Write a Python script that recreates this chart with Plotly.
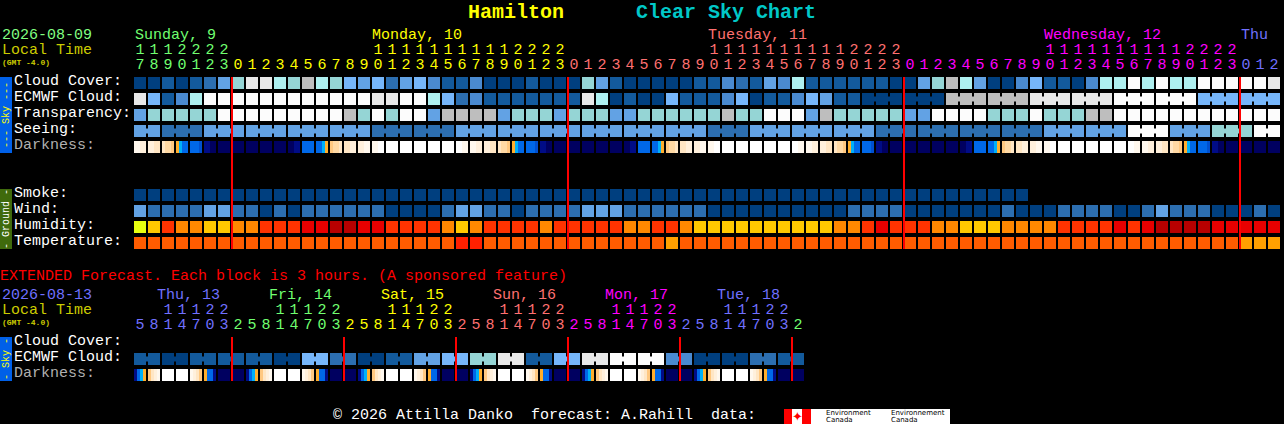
import plotly.graph_objects as go

W, H = 1284, 424
MONO = "Liberation Mono"

# palettes
CLOUD_PAL = ["#003f7f", "#135a9c", "#2c6eb0", "#4a8ad0", "#62a2e4", "#76b6fa", "#95d5d5", "#aef0f0", "#bebebe", "#e8e8e8", "#fcfcfc"]
HUMID_PAL = ["#e8ff10", "#ffc800", "#ff8800", "#ff3300", "#e80000", "#b80000"]
TEMP_PAL = ["#ff5c00", "#ff2000", "#ffa000"]
DARK_PAL = {"0": "#ffffff", "1": "#fff8ee", "2": "#fff0dc", "3": "#ffe6c4", "4": "#ffd9a4", "5": "#ffc880", "6": "#ffae2c",
            "7": "#00b0f8", "8": "#0068e8", "9": "#0050d0", "A": "#000c86", "B": "#000060"}
DARK_KEYS = list(DARK_PAL)

# top table, one value per hour
cloud_cover = [0,0,1,0,1,2,4,6,9,9,7,6,8,7,6,5,4,5,2,4,5,3,1,1,3,0,0,0,1,0,0,0,6,4,1,0,0,0,0,0,1,1,3,2,1,4,3,7,1,1,1,1,
               1,1,0,0,4,6,8,7,4,0,0,3,5,1,1,0,3,7,7,10,7,10,7,7,10,10,10,10,10,9]
ecmwf_hourly = [9,5,1,3,7,10,10,10,10,10,10,10,10,10,10,10,10,9,9,10,10,7,5,2,3,1,1,1,1,1,1,1,9,7,0,1,0,0,5,1,1,1,3,5,0,1,1,3,5,4,1,1]
ecmwf_3hourly = [0,0,8,8,9,9,10,10,5,5]
transparency = [4,6,6,6,6,6,10,10,10,10,10,10,10,10,10,8,6,10,6,10,10,4,8,8,8,8,4,6,6,6,4,6,6,6,4,4,6,6,6,6,6,6,8,6,6,10,10,10,4,8,6,6,
                6,6,6,4,4,10,10,10,10,6,6,6,10,6,6,6,8,8,10,10,10,10,10,10,10,10,10,10,10,10]
seeing_first = 4
seeing_3hourly = [2,4,4,4,4,2,2,4,4,4,4,4,4,2,4,4,4,2,2,2,2,4,4,10,4,6]
seeing_last = 10
smoke = [0] * 64
wind = [4,2,2,2,2,4,4,2,2,0,2,0,2,2,2,2,2,2,0,0,0,0,2,4,4,2,2,0,2,2,2,2,4,4,4,2,2,2,2,2,2,0,0,0,0,0,0,0,0,0,0,2,
        2,2,2,0,0,0,0,0,0,0,2,0,0,0,2,2,2,2,0,0,2,4,2,2,2,0,0,0,2,0]
humidity = [0,1,3,2,2,1,1,2,2,3,3,3,4,4,5,5,4,4,3,3,3,3,2,1,2,3,3,3,3,2,3,3,3,3,3,2,2,3,3,2,1,1,1,1,1,1,1,1,1,1,2,2,
            3,4,3,3,3,2,2,1,1,1,2,2,2,2,3,3,3,3,4,3,4,5,5,5,5,4,4,4,4,4]
temperature = [0]*23 + [1,1] + [0]*13 + [2] + [0]*40 + [2,2,2]
darkness = ["1122","2233","3445","6788","8889","AABB","BBBB","BBBB","BBBB","BBBB","BBBB","BBAA","8888","8876","5443","3322","2211","1100",
            "0000","0000","0000","0000","0000","0011","1122","2233","3445","6788","8889","AABB","BBBB","BBBB","BBBB","BBBB","BBBB","BBAA",
            "8888","8876","5443","3322","2211","1100","0000","0000","0000","0000","0000","0011","1122","2233","3445","6788","8889","AABB",
            "BBBB","BBBB","BBBB","BBBB","BBBB","BBAA","8888","8876","5443","3322","2211","1100","0000","0000","0000","0000","0000","0011",
            "1122","2233","3445","6788","8889","AABB","BBBB","BBBB","BBBB","BBBB"]

# extended table, one value per 3 hours
ext_ecmwf_pairs = [1,0,1,1,1,0,5,2,0,1,4,5,6,9,1,5,9,10,10,3,0,0,2,1]
ext_darkness = ["A876","5321","0000","0000","1235","688A","BBBB","BBBB"] * 6

# tick labels
top_units = list("7890123") + list("012345678901234567890123") * 3 + list("012")
top_tens = list("1112222") + list("          11111111112222") * 3 + list("   ")
ext_units = list("58147032") * 6
ext_tens = list("  11122 ") * 6
top_color_runs = [(7, "#70ff70"), (24, "#ffff00"), (24, "#ff7070"), (24, "#ff00ff"), (3, "#7070ff")]
ext_color_runs = [(7, "#7070ff"), (8, "#70ff70"), (8, "#ffff00"), (8, "#ff7070"), (8, "#ff00ff"), (8, "#7070ff"), (1, "#70ff70")]
top_days = [("Sunday, 9", 135, "#70ff70"), ("Monday, 10", 372, "#ffff00"), ("Tuesday, 11", 708, "#ff7070"),
            ("Wednesday, 12", 1044, "#ff00ff"), ("Thu", 1241, "#7070ff")]
ext_days = [("Thu, 13", 157, "#7070ff"), ("Fri, 14", 269, "#70ff70"), ("Sat, 15", 381, "#ffff00"),
            ("Sun, 16", 493, "#ff7070"), ("Mon, 17", 605, "#ff00ff"), ("Tue, 18", 717, "#7070ff")]
top_midnights = [7, 31, 55, 79]
ext_midnights = [7, 15, 23, 31, 39, 47]

ROWS = dict(cloud=83, ecmwf=99, transp=115, seeing=131, dark=147, smoke=195, wind=211, humid=227, temp=243,
            xcloud=343, xecmwf=359, xdark=375)


def expand(values, size):
    return [v for v in values for _ in range(size)]


def scale(pal):
    n = len(pal)
    cs = []
    for k, c in enumerate(pal):
        cs += [[k / n, c], [(k + 1) / n, c]]
    return cs


fig = go.Figure()


def add_row(values, y, pal):
    fig.add_trace(go.Heatmap(z=[[v + 0.5 for v in values]], x0=0, dx=1, y0=y, dy=16, xgap=2, ygap=4,
                             zmin=0, zmax=len(pal), colorscale=scale(pal), showscale=False, hoverinfo="skip"))


def add_joins(values, groups, y, pal):
    # groups: (first column, cells); same colour link between the cells of a forecast block
    for (start, size), v in zip(groups, values):
        fig.add_trace(go.Scatter(x=[start, start + size - 1], y=[y, y], mode="lines", hoverinfo="skip", showlegend=False,
                                 line=dict(color=pal[v], width=5)))


def add_darkness(cells, y):
    xs, zs = [], []
    for i, cell in enumerate(cells):
        px = [None] + [DARK_KEYS.index(c) + 0.5 for c in cell for _ in range(3)] + [None]
        for k, v in enumerate(px):
            xs.append(i + (k - 6.5) / 14)
            zs.append(v)
    fig.add_trace(go.Heatmap(z=[zs], x=xs, y0=y, dy=16, ygap=4, zmin=0, zmax=len(DARK_KEYS),
                             colorscale=scale(list(DARK_PAL.values())), showscale=False, hoverinfo="skip"))


def add_digits(labels, runs, y):
    i = 0
    for n, color in runs:
        fig.add_trace(go.Scatter(x=list(range(i, i + n)), y=[y] * n, text=labels[i:i + n], mode="text", hoverinfo="skip",
                                 showlegend=False, textfont=dict(family=MONO, size=15, color=color),
                                 textposition="middle center"))
        i += n


def label(text, px, y, color="#ffffff", size=15, bold=False, anchor="left", angle=0):
    fig.add_annotation(text=f"<b>{text}</b>" if bold else text, xref="paper", yref="y", x=px / W, y=y, showarrow=False,
                       xanchor=anchor, yanchor="middle", textangle=angle, borderpad=0, borderwidth=0,
                       font=dict(family=MONO, size=size, color=color))


def box(x0, x1, y0, y1, color):
    fig.add_shape(type="rect", xref="paper", yref="y", x0=x0 / W, x1=x1 / W, y0=y0, y1=y1, fillcolor=color,
                  line_width=0, layer="below")


# rows
add_row(cloud_cover, ROWS["cloud"], CLOUD_PAL)
ecmwf_top = ecmwf_hourly + expand(ecmwf_3hourly, 3)
add_row(ecmwf_top, ROWS["ecmwf"], CLOUD_PAL)
add_joins(ecmwf_3hourly, [(52 + 3 * k, 3) for k in range(10)], ROWS["ecmwf"], CLOUD_PAL)
add_row(transparency, ROWS["transp"], CLOUD_PAL)
seeing = [seeing_first] * 2 + expand(seeing_3hourly, 3) + [seeing_last] * 2
see_vals = [seeing_first] + seeing_3hourly + [seeing_last]
see_groups = [(0, 2)] + [(2 + 3 * k, 3) for k in range(len(seeing_3hourly))] + [(80, 2)]
add_row(seeing, ROWS["seeing"], CLOUD_PAL)
add_joins(see_vals, see_groups, ROWS["seeing"], CLOUD_PAL)
add_darkness(darkness, ROWS["dark"])
add_row(smoke, ROWS["smoke"], CLOUD_PAL)
add_row(wind, ROWS["wind"], CLOUD_PAL)
add_row(humidity, ROWS["humid"], HUMID_PAL)
add_row(temperature, ROWS["temp"], TEMP_PAL)
add_row(expand(ext_ecmwf_pairs, 2), ROWS["xecmwf"], CLOUD_PAL)
add_joins(ext_ecmwf_pairs, [(2 * k, 2) for k in range(24)], ROWS["xecmwf"], CLOUD_PAL)
add_darkness(ext_darkness, ROWS["xdark"])

# hour digits
add_digits(top_tens, top_color_runs, 50)
add_digits(top_units, top_color_runs, 65)
add_digits(ext_tens, ext_color_runs, 310)
add_digits(ext_units, ext_color_runs, 325)

# day-change lines
for c in top_midnights:
    fig.add_shape(type="line", xref="x", yref="y", x0=c - 6 / 14, x1=c - 6 / 14, y0=77, y1=249, line=dict(color="#ff0000", width=2), layer="above")
for c in ext_midnights:
    fig.add_shape(type="line", xref="x", yref="y", x0=c - 6 / 14, x1=c - 6 / 14, y0=337, y1=381, line=dict(color="#ff0000", width=2), layer="above")

# side tabs
box(0, 12, 77, 153, "#0060e8")
box(0, 12, 189, 249, "#3f6a0c")
box(0, 12, 337, 381, "#0060e8")
label("--- Sky ---", 6, 115, "#ffff00", 10, anchor="center", angle=-90)
label("- Ground -", 6, 219, "#ffffff", 10, anchor="center", angle=-90)
label("- Sky -", 6, 359, "#ffff00", 10, anchor="center", angle=-90)

# texts
label("Hamilton", 468, 12, "#ffff00", 20, bold=True)
label("Clear Sky Chart", 636, 12, "#00c8c8", 20, bold=True)
label("2026-08-09", 2, 35, "#80ff80")
label("Local Time", 2, 50, "#cccc00")
label("(GMT -4.0)", 2, 62, "#cccc00", 8, bold=True)
label("2026-08-13", 2, 295, "#7070ff")
label("Local Time", 2, 310, "#cccc00")
label("(GMT -4.0)", 2, 322, "#cccc00", 8, bold=True)
for t, x, c in top_days:
    label(t, x, 35, c)
for t, x, c in ext_days:
    label(t, x, 295, c)
for t, y, c in [("Cloud Cover:", 81, "#fff"), ("ECMWF Cloud:", 97, "#fff"), ("Transparency:", 113, "#fff"), ("Seeing:", 129, "#fff"),
                ("Darkness:", 145, "#b0b0b0"), ("Smoke:", 193, "#fff"), ("Wind:", 209, "#fff"), ("Humidity:", 225, "#fff"),
                ("Temperature:", 241, "#fff"), ("Cloud Cover:", 341, "#fff"), ("ECMWF Cloud:", 357, "#fff"), ("Darkness:", 373, "#b0b0b0")]:
    label(t, 14, y, c)
label("EXTENDED Forecast. Each block is 3 hours. (A sponsored feature)", 0, 276, "#ff0000")
label("© 2026 Attilla Danko\u00a0\u00a0forecast: A.Rahill\u00a0\u00a0data:", 333, 415, "#ffffff")

# Environment Canada logo
box(784, 950, 409, 424, "#ffffff")
box(784, 792, 409, 424, "#ff0000")
box(802, 811, 409, 424, "#ff0000")
fig.add_annotation(text="\u2726", xref="paper", yref="y", x=797 / W, y=416, showarrow=False, font=dict(family="DejaVu Sans", size=13, color="#ff0000"))
for t, x, y in [("Environment", 825, 413), ("Environnement", 890, 413), ("Canada", 825, 420), ("Canada", 890, 420)]:
    fig.add_annotation(text=t, xref="paper", yref="y", x=x / W, y=y, showarrow=False, xanchor="left", yanchor="middle",
                       borderpad=0, font=dict(family="DejaVu Sans", size=7, color="#000000"))

fig.update_layout(width=W, height=H, margin=dict(l=0, r=0, t=0, b=0), paper_bgcolor="#000000", plot_bgcolor="#000000", showlegend=False,
                  xaxis=dict(range=[-140 / 14, (W - 140) / 14], visible=False, fixedrange=True),
                  yaxis=dict(range=[H, 0], visible=False, fixedrange=True))
fig.write_html("out.html", config=dict(displayModeBar=False), post_script="document.body.style.margin='0';document.body.style.background='#000';")
